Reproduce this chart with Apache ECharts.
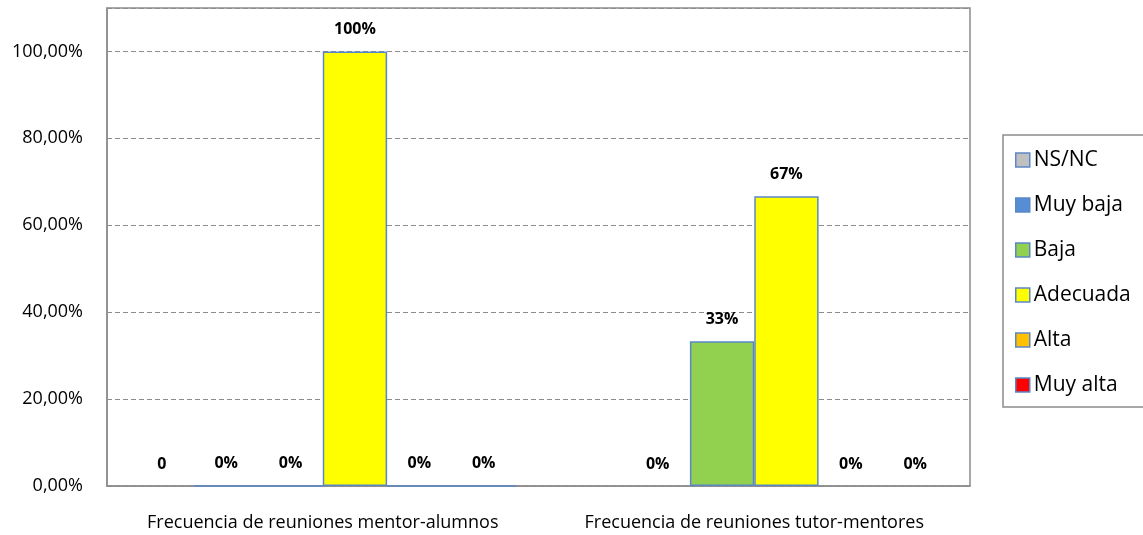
<!DOCTYPE html>
<html>
<head>
<meta charset="utf-8">
<script src="https://cdn.jsdelivr.net/npm/echarts@6/dist/echarts.min.js"></script>
<style>
html,body{margin:0;padding:0;background:#fff;}
#chart{width:1143px;height:535px;}
</style>
</head>
<body>
<div id="chart"></div>
<script>
// ---- data ----
var categories = ["Frecuencia de reuniones mentor-alumnos", "Frecuencia de reuniones tutor-mentores"];
var seriesNames = ["NS/NC", "Muy baja", "Baja", "Adecuada", "Alta", "Muy alta"];
var nsnc     = [0, 0];
var muyBaja  = [0, 0];
var baja     = [0, 0.3333];
var adecuada = [1, 0.6667];
var alta     = [0, 0];
var muyAlta  = [0, 0];
// label texts as printed on the picture
var nsncLabels     = ["0", ""];
var muyBajaLabels  = ["0%", "0%"];
var bajaLabels     = ["0%", "33%"];
var adecuadaLabels = ["100%", "67%"];
var altaLabels     = ["0%", "0%"];
var muyAltaLabels  = ["0%", "0%"];
var yTicks = [0, 0.2, 0.4, 0.6, 0.8, 1.0];

var values = [nsnc, muyBaja, baja, adecuada, alta, muyAlta];
var labels = [nsncLabels, muyBajaLabels, bajaLabels, adecuadaLabels, altaLabels, muyAltaLabels];
var colors = ["#C0C0C0", "#558ED5", "#92D050", "#FFFF00", "#FFC000", "#FF0000"];
var borderColor = "#5B87C8";
// zero bars that show an outline at the baseline in the reference (first group only)
var zeroOutline = [[false, false], [true, false], [true, false], [true, true], [true, false], [true, false]];

var FONT = "Open Sans";
var chart = echarts.init(document.getElementById('chart'), null, {renderer: 'canvas'});

var series = seriesNames.map(function (name, si) {
  return {
    name: name,
    type: 'bar',
    barGap: '0%',
    barCategoryGap: '10.5%',
    itemStyle: {color: colors[si], borderColor: borderColor, borderWidth: 1.5},
    data: values[si].map(function (v, ci) {
      var d = {value: v};
      if (v === 0 && !zeroOutline[si][ci]) d.itemStyle = {borderWidth: 0};
      return d;
    }),
    label: {
      show: true,
      position: 'top',
      distance: 14,
      fontFamily: FONT,
      fontWeight: 'bold',
      fontSize: 16,
      color: '#000',
      formatter: function (p) { return labels[si][p.dataIndex]; }
    }
  };
});

chart.setOption({
  animation: false,
  backgroundColor: '#fff',
  grid: {left: 107, right: 173, top: 8, bottom: 49, show: true, borderColor: '#8C8C8C', borderWidth: 1.5, containLabel: false},
  legend: {
    orient: 'vertical',
    left: 1003,
    top: 135,
    padding: [13, 40, 10, 12],
    itemGap: 21,
    itemWidth: 14,
    itemHeight: 14,
    backgroundColor: '#fff',
    borderColor: '#8C8C8C',
    borderWidth: 1.5,
    borderRadius: 0,
    icon: 'rect',
    itemStyle: {borderColor: borderColor, borderWidth: 1.5},
    textStyle: {fontFamily: FONT, fontSize: 21, color: '#000', lineHeight: 24, padding: [0, 0, 0, -1]},
    data: seriesNames
  },
  xAxis: {
    type: 'category',
    data: categories,
    axisLine: {lineStyle: {color: '#8C8C8C', width: 1.5}},
    axisTick: {show: false},
    axisLabel: {fontFamily: FONT, fontSize: 18, color: '#000', margin: 28, interval: 0}
  },
  yAxis: {
    type: 'value',
    min: 0,
    max: 1.1,
    interval: 0.2,
    axisLine: {show: true, lineStyle: {color: '#8C8C8C', width: 1.5}},
    axisTick: {show: false},
    splitLine: {show: true, lineStyle: {color: '#8C8C8C', type: [5, 3], width: 1}},
    axisLabel: {
      fontFamily: FONT, fontSize: 18, color: '#000', margin: 24,
      showMaxLabel: false,
      formatter: function (v) {
        if (yTicks.indexOf(Math.round(v * 10) / 10) < 0) return '';
        return (v * 100).toFixed(2).replace('.', ',') + '%';
      }
    }
  },
  series: series
});
</script>
</body>
</html>
